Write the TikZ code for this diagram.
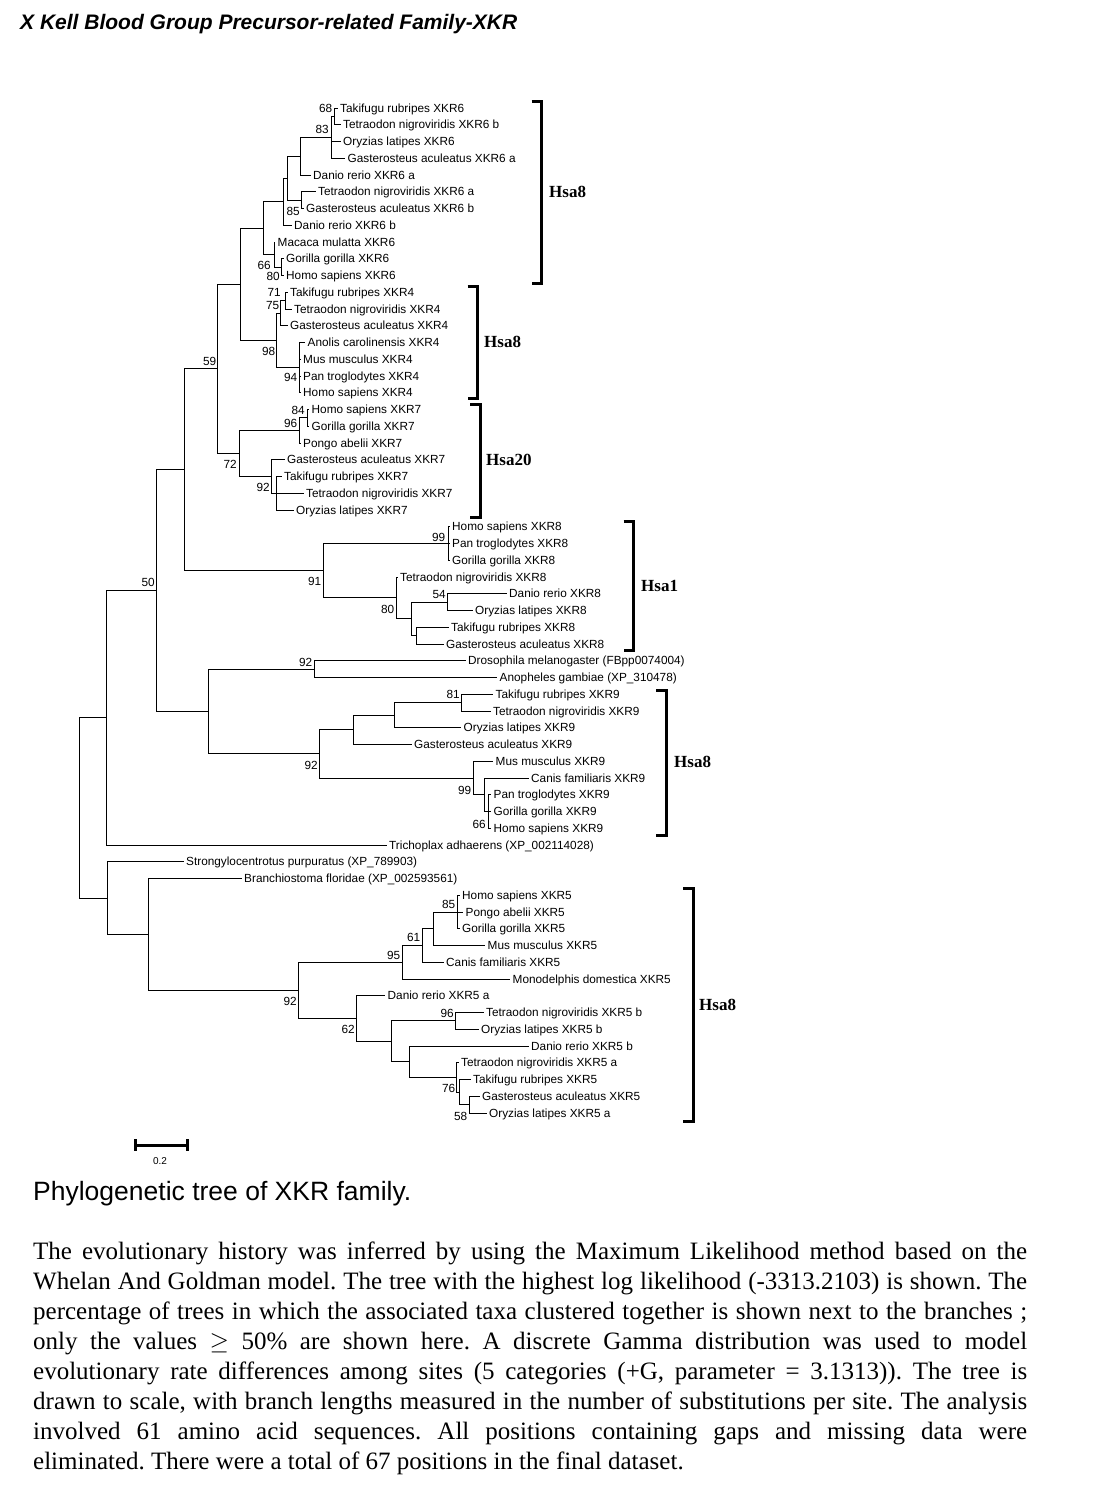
\documentclass[tikz,border=0pt]{standalone}
\usepackage{fontspec}
\setmainfont{Liberation Serif}
\setsansfont{Liberation Sans}
\newcommand{\taxfont}{\sffamily\fontsize{11.8}{13}\selectfont}
\newcommand{\chrfont}{\rmfamily\bfseries\fontsize{17}{19}\selectfont}
\frenchspacing

\begin{document}
\begin{tikzpicture}[x=1pt,y=-1pt,
    treeedge/.style={line width=0.9pt},
    taxon/.style={anchor=west,inner xsep=2.5pt,inner ysep=0pt,text height=8.4pt,text depth=0pt,font=\taxfont},
    bootval/.style={anchor=east,inner sep=0pt,font=\taxfont},
    cladebar/.style={line width=3pt},
    chrlab/.style={anchor=west,inner sep=0pt,font=\chrfont}]
    \useasboundingbox (0,0) rectangle (1109,1486);
    %title
    \node [anchor=base west,inner sep=0pt,font=\sffamily\bfseries\itshape\fontsize{21}{24}\selectfont] (title) at (20,29){X Kell Blood Group Precursor-related Family-XKR};

    %taxa XKR6
    \node [taxon] (t1) at (337.5,108){Takifugu rubripes XKR6};
    \node [taxon] (t2) at (340.5,124.75){Tetraodon nigroviridis XKR6 b};
    \node [taxon] (t3) at (340.5,141.5){Oryzias latipes XKR6};
    \node [taxon] (t4) at (345,158.25){Gasterosteus aculeatus XKR6 a};
    \node [taxon] (t5) at (310.5,175){Danio rerio XKR6 a};
    \node [taxon] (t6) at (315.5,191.75){Tetraodon nigroviridis XKR6 a};
    \node [taxon] (t7) at (303.5,208.5){Gasterosteus aculeatus XKR6 b};
    \node [taxon] (t8) at (291.5,225.25){Danio rerio XKR6 b};
    \node [taxon] (t9) at (275,242){Macaca mulatta XKR6};
    \node [taxon] (t10) at (283.5,258.75){Gorilla gorilla XKR6};
    \node [taxon] (t11) at (283.5,275.5){Homo sapiens XKR6};
    %taxa XKR4
    \node [taxon] (t12) at (287.5,292.25){Takifugu rubripes XKR4};
    \node [taxon] (t13) at (291.5,309){Tetraodon nigroviridis XKR4};
    \node [taxon] (t14) at (287.5,325.75){Gasterosteus aculeatus XKR4};
    \node [taxon] (t15) at (305,342.5){Anolis carolinensis XKR4};
    \node [taxon] (t16) at (300.5,359.25){Mus musculus XKR4};
    \node [taxon] (t17) at (300.5,376){Pan troglodytes XKR4};
    \node [taxon] (t18) at (300.5,392.75){Homo sapiens XKR4};
    %taxa XKR7
    \node [taxon] (t19) at (309,409.5){Homo sapiens XKR7};
    \node [taxon] (t20) at (309,426.25){Gorilla gorilla XKR7};
    \node [taxon] (t21) at (300.5,443){Pongo abelii XKR7};
    \node [taxon] (t22) at (284.5,459.75){Gasterosteus aculeatus XKR7};
    \node [taxon] (t23) at (281.5,476.5){Takifugu rubripes XKR7};
    \node [taxon] (t24) at (303.5,493.25){Tetraodon nigroviridis XKR7};
    \node [taxon] (t25) at (293.5,510){Oryzias latipes XKR7};
    %taxa XKR8
    \node [taxon] (t26) at (449.5,526.75){Homo sapiens XKR8};
    \node [taxon] (t27) at (449.5,543.5){Pan troglodytes XKR8};
    \node [taxon] (t28) at (449.5,560.25){Gorilla gorilla XKR8};
    \node [taxon] (t29) at (397.5,577){Tetraodon nigroviridis XKR8};
    \node [taxon] (t30) at (506.5,593.75){Danio rerio XKR8};
    \node [taxon] (t31) at (472.5,610.5){Oryzias latipes XKR8};
    \node [taxon] (t32) at (448.5,627.25){Takifugu rubripes XKR8};
    \node [taxon] (t33) at (443.5,644){Gasterosteus aculeatus XKR8};
    %insects
    \node [taxon] (t34) at (465.5,660.75){Drosophila melanogaster (FBpp0074004)};
    \node [taxon] (t35) at (497,677.5){Anopheles gambiae (XP\_310478)};
    %taxa XKR9
    \node [taxon] (t36) at (493,694.25){Takifugu rubripes XKR9};
    \node [taxon] (t37) at (490.5,711){Tetraodon nigroviridis XKR9};
    \node [taxon] (t38) at (461,727.75){Oryzias latipes XKR9};
    \node [taxon] (t39) at (411.5,744.5){Gasterosteus aculeatus XKR9};
    \node [taxon] (t40) at (493,761.25){Mus musculus XKR9};
    \node [taxon] (t41) at (528.5,778){Canis familiaris XKR9};
    \node [taxon] (t42) at (491,794.75){Pan troglodytes XKR9};
    \node [taxon] (t43) at (491,811.5){Gorilla gorilla XKR9};
    \node [taxon] (t44) at (491,828.25){Homo sapiens XKR9};
    %outgroups
    \node [taxon] (t45) at (386.5,845){Trichoplax adhaerens (XP\_002114028)};
    \node [taxon] (t46) at (183.5,861.75){Strongylocentrotus purpuratus (XP\_789903)};
    \node [taxon] (t47) at (241.5,878.5){Branchiostoma floridae (XP\_002593561)};
    %taxa XKR5
    \node [taxon] (t48) at (459.5,895.25){Homo sapiens XKR5};
    \node [taxon] (t49) at (463,912){Pongo abelii XKR5};
    \node [taxon] (t50) at (459.5,928.75){Gorilla gorilla XKR5};
    \node [taxon] (t51) at (485,945.5){Mus musculus XKR5};
    \node [taxon] (t52) at (443.5,962.25){Canis familiaris XKR5};
    \node [taxon] (t53) at (510,979){Monodelphis domestica XKR5};
    \node [taxon] (t54) at (385,995.75){Danio rerio XKR5 a};
    \node [taxon] (t55) at (483.5,1012.5){Tetraodon nigroviridis XKR5 b};
    \node [taxon] (t56) at (478.5,1029.25){Oryzias latipes XKR5 b};
    \node [taxon] (t57) at (528.5,1046){Danio rerio XKR5 b};
    \node [taxon] (t58) at (458.5,1062.75){Tetraodon nigroviridis XKR5 a};
    \node [taxon] (t59) at (470.5,1079.5){Takifugu rubripes XKR5};
    \node [taxon] (t60) at (479.5,1096.25){Gasterosteus aculeatus XKR5};
    \node [taxon] (t61) at (486.5,1113){Oryzias latipes XKR5 a};

    %inner nodes XKR6
    \coordinate (n68) at (334,116.4);
    \coordinate (n83) at (331.7,137.3);
    \coordinate (nP1) at (300,156.2);
    \coordinate (n85) at (301.7,200.1);
    \coordinate (nB) at (287.3,178.1);
    \coordinate (nA) at (283.3,201.7);
    \coordinate (nR) at (281.7,267.1);
    \coordinate (nQ) at (274,254.6);
    \coordinate (nC) at (263.3,228.1);
    %inner nodes XKR4
    \coordinate (n71) at (285,300.6);
    \coordinate (n75) at (280.7,313.2);
    \coordinate (n94) at (299,367.6);
    \coordinate (n98) at (276.7,340.4);
    \coordinate (nD) at (240,284.3);
    %inner nodes XKR7
    \coordinate (n84) at (307,417.9);
    \coordinate (n96) at (299,430.4);
    \coordinate (nT) at (276.7,493.25);
    \coordinate (n92b) at (271.7,476.5);
    \coordinate (n72) at (239,453.5);
    \coordinate (n59) at (217.7,368.9);
    %inner nodes XKR8
    \coordinate (n99) at (448,543.5);
    \coordinate (n54) at (447.8,602.1);
    \coordinate (nP8) at (416.4,635.6);
    \coordinate (nO) at (411.5,618.9);
    \coordinate (n80) at (396.2,597.9);
    \coordinate (n91) at (323.4,570.7);
    \coordinate (nE) at (184,469.8);
    %inner nodes insects, XKR9
    \coordinate (n92d) at (314,669.1);
    \coordinate (n81) at (461.4,702.6);
    \coordinate (nR9b) at (394.3,715.2);
    \coordinate (nR9a) at (353.2,729.8);
    \coordinate (n66b) at (488,811.5);
    \coordinate (nS) at (484.6,794.75);
    \coordinate (n99b) at (473.2,778);
    \coordinate (n92e) at (319.6,753.9);
    \coordinate (nF) at (208.3,711.5);
    \coordinate (n50) at (156.7,590.7);
    \coordinate (nG) at (106,717.8);
    %inner nodes XKR5
    \coordinate (n85c) at (457.2,912);
    \coordinate (nK) at (433.8,928.75);
    \coordinate (n61) at (422,945.5);
    \coordinate (n95) at (402.6,962.25);
    \coordinate (n96c) at (455.7,1020.9);
    \coordinate (n58) at (469.3,1104.6);
    \coordinate (n76) at (459,1092.1);
    \coordinate (nN) at (456,1077.4);
    \coordinate (nM) at (409,1061.7);
    \coordinate (nL) at (391,1041.3);
    \coordinate (n62) at (356,1018.5);
    \coordinate (n92c) at (298,990.4);
    \coordinate (nI) at (148,934.4);
    \coordinate (nH) at (107.7,898.1);
    \coordinate (root) at (79.3,808);

    %branches XKR6
    \draw [treeedge] (n68) |- (t1.west) (n68) |- (t2.west);
    \draw [treeedge] (n83) |- (n68) (n83) |- (t3.west) (n83) |- (t4.west);
    \draw [treeedge] (nP1) |- (n83) (nP1) |- (t5.west);
    \draw [treeedge] (n85) |- (t6.west) (n85) |- (t7.west);
    \draw [treeedge] (nB) |- (nP1) (nB) |- (n85);
    \draw [treeedge] (nA) |- (nB) (nA) |- (t8.west);
    \draw [treeedge] (nR) |- (t10.west) (nR) |- (t11.west);
    \draw [treeedge] (nQ) |- (t9.west) (nQ) |- (nR);
    \draw [treeedge] (nC) |- (nA) (nC) |- (nQ);
    %branches XKR4
    \draw [treeedge] (n71) |- (t12.west) (n71) |- (t13.west);
    \draw [treeedge] (n75) |- (n71) (n75) |- (t14.west);
    \draw [treeedge] (n94) |- (t15.west) (n94) |- (t16.west) (n94) |- (t17.west) (n94) |- (t18.west);
    \draw [treeedge] (n98) |- (n75) (n98) |- (n94);
    \draw [treeedge] (nD) |- (nC) (nD) |- (n98);
    %branches XKR7
    \draw [treeedge] (n84) |- (t19.west) (n84) |- (t20.west);
    \draw [treeedge] (n96) |- (n84) (n96) |- (t21.west);
    \draw [treeedge] (nT) |- (t23.west) (nT) |- (t24.west) (nT) |- (t25.west);
    \draw [treeedge] (n92b) |- (t22.west) (n92b) |- (nT);
    \draw [treeedge] (n72) |- (n96) (n72) |- (n92b);
    \draw [treeedge] (n59) |- (nD) (n59) |- (n72);
    %branches XKR8
    \draw [treeedge] (n99) |- (t26.west) (n99) |- (t27.west) (n99) |- (t28.west);
    \draw [treeedge] (n54) |- (t30.west) (n54) |- (t31.west);
    \draw [treeedge] (nP8) |- (t32.west) (nP8) |- (t33.west);
    \draw [treeedge] (nO) |- (n54) (nO) |- (nP8);
    \draw [treeedge] (n80) |- (t29.west) (n80) |- (nO);
    \draw [treeedge] (n91) |- (n99) (n91) |- (n80);
    \draw [treeedge] (nE) |- (n59) (nE) |- (n91);
    %branches insects, XKR9
    \draw [treeedge] (n92d) |- (t34.west) (n92d) |- (t35.west);
    \draw [treeedge] (n81) |- (t36.west) (n81) |- (t37.west);
    \draw [treeedge] (nR9b) |- (n81) (nR9b) |- (t38.west);
    \draw [treeedge] (nR9a) |- (nR9b) (nR9a) |- (t39.west);
    \draw [treeedge] (n66b) |- (t42.west) (n66b) |- (t43.west) (n66b) |- (t44.west);
    \draw [treeedge] (nS) |- (t41.west) (nS) |- (n66b);
    \draw [treeedge] (n99b) |- (t40.west) (n99b) |- (nS);
    \draw [treeedge] (n92e) |- (nR9a) (n92e) |- (n99b);
    \draw [treeedge] (nF) |- (n92d) (nF) |- (n92e);
    \draw [treeedge] (n50) |- (nE) (n50) |- (nF);
    \draw [treeedge] (nG) |- (n50) (nG) |- (t45.west);
    %branches XKR5
    \draw [treeedge] (n85c) |- (t48.west) (n85c) |- (t49.west) (n85c) |- (t50.west);
    \draw [treeedge] (nK) |- (n85c) (nK) |- (t51.west);
    \draw [treeedge] (n61) |- (nK) (n61) |- (t52.west);
    \draw [treeedge] (n95) |- (n61) (n95) |- (t53.west);
    \draw [treeedge] (n96c) |- (t55.west) (n96c) |- (t56.west);
    \draw [treeedge] (n58) |- (t60.west) (n58) |- (t61.west);
    \draw [treeedge] (n76) |- (t59.west) (n76) |- (n58);
    \draw [treeedge] (nN) |- (t58.west) (nN) |- (n76);
    \draw [treeedge] (nM) |- (t57.west) (nM) |- (nN);
    \draw [treeedge] (nL) |- (n96c) (nL) |- (nM);
    \draw [treeedge] (n62) |- (t54.west) (n62) |- (nL);
    \draw [treeedge] (n92c) |- (n95) (n92c) |- (n62);
    \draw [treeedge] (nI) |- (t47.west) (nI) |- (n92c);
    \draw [treeedge] (nH) |- (t46.west) (nH) |- (nI);
    \draw [treeedge] (root) |- (nG) (root) |- (nH);

    %bootstrap values
    \node [bootval] (b68) at (332.5,108){68};
    \node [bootval] (b83) at (329,129){83};
    \node [bootval] (b85) at (300,211){85};
    \node [bootval] (b66) at (271,265){66};
    \node [bootval] (b80) at (280,276){80};
    \node [bootval] (b71) at (281,292){71};
    \node [bootval] (b75) at (279.5,305){75};
    \node [bootval] (b98) at (275.5,351){98};
    \node [bootval] (b94) at (297.5,377){94};
    \node [bootval] (b84) at (305,410){84};
    \node [bootval] (b96) at (297.5,423){96};
    \node [bootval] (b92) at (270,487){92};
    \node [bootval] (b72) at (237,464){72};
    \node [bootval] (b59) at (216.5,361){59};
    \node [bootval] (b50) at (155,582){50};
    \node [bootval] (b91) at (321.5,581){91};
    \node [bootval] (b99) at (445.5,537){99};
    \node [bootval] (b80b) at (394.5,609){80};
    \node [bootval] (b54) at (446,594){54};
    \node [bootval] (b92d) at (312.5,662){92};
    \node [bootval] (b81) at (460,694){81};
    \node [bootval] (b92e) at (318,765){92};
    \node [bootval] (b99b) at (471.5,790){99};
    \node [bootval] (b66b) at (486,824){66};
    \node [bootval] (b92c) at (297,1001){92};
    \node [bootval] (b95) at (400.5,955){95};
    \node [bootval] (b61) at (420.5,937){61};
    \node [bootval] (b85c) at (455.5,904){85};
    \node [bootval] (b62) at (355,1029){62};
    \node [bootval] (b96c) at (454,1013){96};
    \node [bootval] (b76) at (455.5,1088){76};
    \node [bootval] (b58) at (467.5,1116){58};

    %chromosome brackets
    \draw [cladebar] (531.5,101) -| (541.5,283) -- (531.5,283);
    \node [chrlab] (h1) at (549,192){Hsa8};
    \draw [cladebar] (467.5,286) -| (477.5,398.5) -- (467.5,398.5);
    \node [chrlab] (h2) at (484,342){Hsa8};
    \draw [cladebar] (470,404) -| (480,517) -- (470,517);
    \node [chrlab] (h3) at (486,460){Hsa20};
    \draw [cladebar] (623.5,521) -| (633.5,650) -- (623.5,650);
    \node [chrlab] (h4) at (641,586){Hsa1};
    \draw [cladebar] (656,690) -| (666,835) -- (656,835);
    \node [chrlab] (h5) at (674,762){Hsa8};
    \draw [cladebar] (683,888) -| (693.5,1121.5) -- (683,1121.5);
    \node [chrlab] (h6) at (699,1005){Hsa8};

    %scale bar
    \draw [line width=3pt] (135,1145) -- (187,1145);
    \draw [line width=3pt] (135,1139) -- (135,1151);
    \draw [line width=3pt] (187,1139) -- (187,1151);
    \node [inner sep=0pt,font=\sffamily\fontsize{10}{12}\selectfont] (scale) at (160,1161){0.2};

    %caption
    \node [anchor=base west,inner sep=0pt,font=\sffamily\fontsize{26.5}{30}\selectfont] (caption) at (33,1200){Phylogenetic tree of XKR family.};
    \node [anchor=north west,inner sep=0pt,text width=994pt,align=justify,
           font=\rmfamily\fontsize{25}{30}\selectfont] (legend) at (33,1242){%
\tolerance=10000 \hyphenpenalty=10000 %
The evolutionary history was inferred by using the Maximum Likelihood method based on the\linebreak
Whelan And Goldman model. The tree with the highest log likelihood (-3313.2103) is shown. The\linebreak
percentage of trees in which the associated taxa clustered together is shown next to the branches ;\linebreak
only the values $\geq$ 50\% are shown here. A discrete Gamma distribution was used to model\linebreak
evolutionary rate differences among sites (5 categories (+G, parameter = 3.1313)). The tree is\linebreak
drawn to scale, with branch lengths measured in the number of substitutions per site. The analysis\linebreak
involved 61 amino acid sequences. All positions containing gaps and missing data were\linebreak
eliminated. There were a total of 67 positions in the final dataset.};
\end{tikzpicture}
\end{document}
